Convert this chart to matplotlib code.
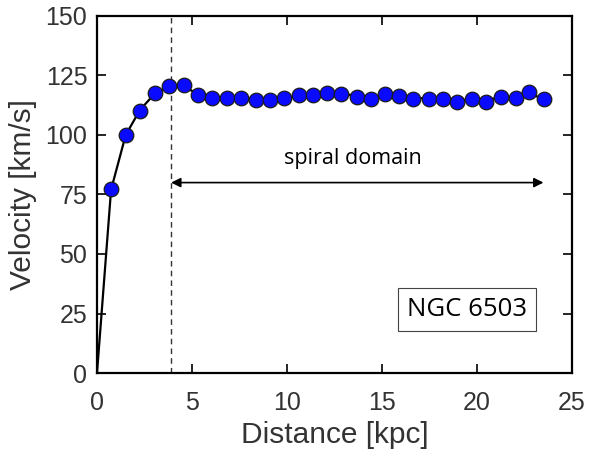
import matplotlib.pyplot as plt
import numpy as np

# Rotation curve of NGC 6503
dist = [0.74, 1.51, 2.26, 3.05, 3.81, 4.56, 5.30, 6.07, 6.83, 7.58, 8.35,
        9.11, 9.86, 10.62, 11.38, 12.12, 12.84, 13.67, 14.42, 15.16, 15.89,
        16.65, 17.47, 18.23, 18.96, 19.72, 20.46, 21.26, 22.04, 22.75, 23.53]
vel = [77.2, 100.0, 110.0, 117.6, 120.7, 121.0, 116.7, 115.5, 115.5, 115.5,
       114.7, 114.7, 115.5, 116.7, 116.7, 117.8, 117.4, 116.1, 115.3, 117.2,
       116.4, 115.3, 115.1, 115.3, 114.0, 115.1, 114.0, 116.1, 115.4, 118.0,
       115.3]

# fitted curve, starts at the origin
fit_r = [0.0] + dist
fit_v = [0.0, 77.0, 100.0, 110.5, 117.5, 120.5, 120.5, 117.2, 116.0, 115.7,
         115.5, 115.3, 115.3, 115.6, 116.2, 116.8, 117.3, 117.2, 116.6, 116.1,
         116.3, 116.0, 115.6, 115.3, 115.0, 114.7, 114.6, 114.9, 115.6, 116.2,
         117.2, 115.3]

r_spiral = 3.9
r_end = 23.5

gray = '#333333'
plt.rcParams['font.family'] = ['Liberation Sans', 'DejaVu Sans']

fig = plt.figure(figsize=(5.89, 4.54), dpi=100)
ax = fig.add_axes([0.1647, 0.1784, 0.8064, 0.7864])

ax.plot(fit_r, fit_v, color='black', lw=1.6, zorder=2)
ax.plot(dist, vel, 'o', ms=10.5, mfc='#0a0aff', mec='#1a1a1a', mew=0.9, zorder=3)

ax.axvline(r_spiral, color='#333333', lw=1.0, ls=(0, (4, 3)), zorder=1)
ax.annotate('', xy=(r_end, 80), xytext=(r_spiral, 80),
            arrowprops=dict(arrowstyle='<|-|>', color='black', lw=1.2,
                            mutation_scale=14, shrinkA=0, shrinkB=0))
ax.text((r_spiral + r_end) / 2 - 0.25, 90.3, 'spiral domain', ha='center',
        va='center', fontsize=15.5, family=['Open Sans', 'DejaVu Sans'])
ax.text(19.47, 26.7, 'NGC 6503', ha='center', va='center', fontsize=18.5,
        family=['Open Sans', 'DejaVu Sans'],
        bbox=dict(boxstyle='square,pad=0.36', fc='white', ec='#444444', lw=0.8))

ax.set_xlim(0, 25)
ax.set_ylim(0, 150)
ax.set_xticks(np.arange(0, 26, 5))
ax.set_yticks(np.arange(0, 151, 25))
ax.tick_params(direction='in', length=6.5, width=1.2, top=True, right=True,
               labelsize=18, labelcolor=gray)
ax.tick_params(axis='x', pad=13)
ax.tick_params(axis='y', pad=7)
for s in ax.spines.values():
    s.set_linewidth(1.6)

ax.set_xlabel('Distance [kpc]', fontsize=21.5, color=gray, labelpad=4)
ax.set_ylabel('Velocity [km/s]', fontsize=21.5, color=gray, labelpad=6)

fig.savefig('out.png', dpi=100)
